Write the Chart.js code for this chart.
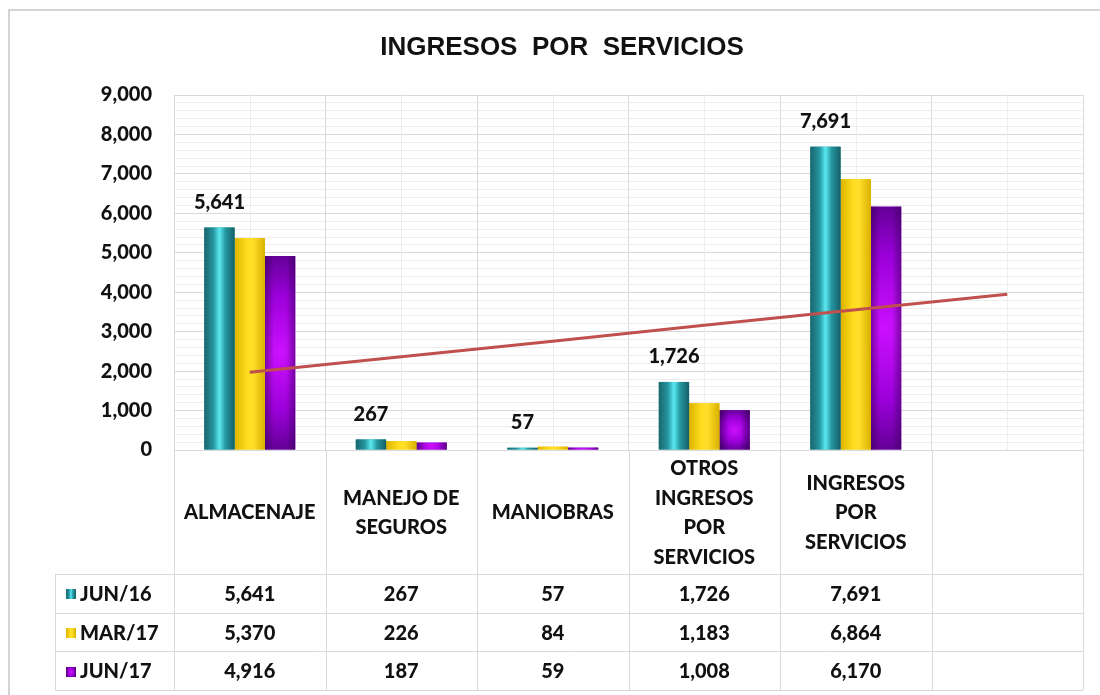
<!DOCTYPE html>
<html>
<head>
<meta charset="utf-8">
<script src="https://cdn.jsdelivr.net/npm/chart.js@4"></script>
<style>
  html, body { margin: 0; padding: 0; background: #fff; }
  #wrap { width: 1100px; height: 695px; }
</style>
</head>
<body>
<div id="wrap"><canvas id="chart" width="1100" height="695"></canvas></div>
<script>
// categories (line-broken as in the table) and series
const categories = [
    ["ALMACENAJE"],
    ["MANEJO DE", "SEGUROS"],
    ["MANIOBRAS"],
    ["OTROS", "INGRESOS", "POR", "SERVICIOS"],
    ["INGRESOS", "POR", "SERVICIOS"],
    [""]
];
const seriesNames = ["JUN/16", "MAR/17", "JUN/17"];
const jun16 = [5641, 267, 57, 1726, 7691, null];
const mar17 = [5370, 226, 84, 1183, 6864, null];
const jun17 = [4916, 187, 59, 1008, 6170, null];
const trend = [1970, 2365, 2760, 3160, 3555, 3950];
const yMajorTicks = [0, 1000, 2000, 3000, 4000, 5000, 6000, 7000, 8000, 9000];
const yMinorStep = 200;

const FONT = "Lato, 'Open Sans', sans-serif";
const WEIGHT = "900";
const GRID = "#d9d9d9";
const GRID_MINOR = "#ededed";
const TEXT = "#111";
const fmt = v => v.toLocaleString("en-US");

function barFill(ctx, x0, x1, yTop, yBot, idx) {
    if (idx === 0) {
        const g = ctx.createLinearGradient(x0, 0, x1, 0);
        g.addColorStop(0, "#17666e");
        g.addColorStop(0.3, "#2596a0");
        g.addColorStop(0.5, "#5ae8f0");
        g.addColorStop(0.7, "#2596a0");
        g.addColorStop(1, "#165f67");
        return g;
    }
    if (idx === 1) {
        const g = ctx.createLinearGradient(x0, 0, x1, 0);
        g.addColorStop(0, "#dcb200");
        g.addColorStop(0.4, "#ffdc1e");
        g.addColorStop(0.6, "#ffdf2a");
        g.addColorStop(1, "#dbb000");
        return g;
    }
    const cx = (x0 + x1) / 2, cy = (yTop + yBot) / 2;
    const r = Math.max((yBot - yTop) * 0.6, (x1 - x0) * 0.8);
    const g = ctx.createRadialGradient(cx, cy, 0, cx, cy, r);
    g.addColorStop(0, "#cc10ff");
    g.addColorStop(0.5, "#9a00d8");
    g.addColorStop(1, "#4a0078");
    return g;
}

function paintBar(ctx, x0, x1, yTop, yBot, idx) {
    ctx.fillStyle = barFill(ctx, x0, x1, yTop, yBot, idx);
    ctx.fillRect(x0, yTop, x1 - x0, yBot - yTop);
    if (idx === 2) {
        const e = ctx.createLinearGradient(x0, 0, x1, 0);
        e.addColorStop(0, "rgba(50,0,80,0.5)");
        e.addColorStop(0.3, "rgba(50,0,80,0)");
        e.addColorStop(0.7, "rgba(50,0,80,0)");
        e.addColorStop(1, "rgba(50,0,80,0.5)");
        ctx.fillStyle = e;
        ctx.fillRect(x0, yTop, x1 - x0, yBot - yTop);
    }
}

const framePlugin = {
    id: "frame",
    beforeDraw(chart) {
        const ctx = chart.ctx;
        ctx.save();
        ctx.strokeStyle = "#d4d4d4";
        ctx.lineWidth = 2;
        ctx.beginPath();
        ctx.moveTo(9, 695);
        ctx.lineTo(9, 10);
        ctx.lineTo(1100, 10);
        ctx.stroke();
        ctx.restore();
    },
    beforeDatasetsDraw(chart) {
        // lighter lines through the middle of each category
        const { ctx, chartArea: a, scales: { x } } = chart;
        ctx.save();
        ctx.strokeStyle = GRID_MINOR;
        ctx.lineWidth = 1;
        categories.forEach((_, i) => {
            const px = Math.round(x.getPixelForValue(i)) + 0.5;
            ctx.beginPath();
            ctx.moveTo(px, a.top);
            ctx.lineTo(px, a.bottom);
            ctx.stroke();
        });
        ctx.restore();
    }
};

const barLookPlugin = {
    id: "barLook",
    afterDatasetDraw(chart, args) {
        const meta = args.meta;
        if (meta.type !== "bar") return;
        const ctx = chart.ctx;
        ctx.save();
        ctx.beginPath();
        ctx.rect(chart.chartArea.left, chart.chartArea.top, chart.chartArea.width, chart.chartArea.height);
        ctx.clip();
        meta.data.forEach((el, j) => {
            const v = chart.data.datasets[args.index].data[j];
            if (v == null) return;
            const x0 = el.x - el.width / 2, x1 = el.x + el.width / 2;
            paintBar(ctx, x0, x1, Math.min(el.y, el.base), Math.max(el.y, el.base), args.index);
        });
        ctx.restore();
    },
    afterDatasetsDraw(chart) {
        // value labels above the JUN/16 bars
        const ctx = chart.ctx;
        const meta = chart.getDatasetMeta(0);
        ctx.save();
        ctx.font = `${WEIGHT} 20px ${FONT}`;
        ctx.fillStyle = TEXT;
        ctx.textAlign = "center";
        ctx.textBaseline = "middle";
        meta.data.forEach((el, j) => {
            const v = jun16[j];
            if (v == null) return;
            ctx.fillText(fmt(v), el.x, el.y - 25);
        });
        ctx.restore();
    }
};

const tablePlugin = {
    id: "dataTable",
    afterDraw(chart) {
        const { ctx, chartArea: a, scales: { x } } = chart;
        const step = x.getPixelForValue(1) - x.getPixelForValue(0);
        const edges = categories.map((_, i) => x.getPixelForValue(i) - step / 2);
        edges.push(x.getPixelForValue(categories.length - 1) + step / 2);
        const bandBottom = 574, rowH = 38.7, tableLeft = 55;
        const rowLines = [0, 1, 2, 3].map(k => bandBottom + k * rowH);
        const tableBottom = rowLines[3];
        const line = (x1, y1, x2, y2) => {
            ctx.beginPath(); ctx.moveTo(x1, y1); ctx.lineTo(x2, y2); ctx.stroke();
        };

        ctx.save();
        ctx.strokeStyle = GRID;
        ctx.lineWidth = 1;
        edges.forEach(ex => {
            const px = Math.round(ex) + 0.5;
            line(px, a.bottom, px, tableBottom);
        });
        line(tableLeft + 0.5, bandBottom, tableLeft + 0.5, tableBottom);
        rowLines.forEach(ry => {
            const py = Math.round(ry) + 0.5;
            line(tableLeft, py, Math.round(a.right) + 0.5, py);
        });

        ctx.font = `${WEIGHT} 20px ${FONT}`;
        ctx.fillStyle = TEXT;
        ctx.textAlign = "center";
        ctx.textBaseline = "middle";
        const mid = (a.bottom + bandBottom) / 2 + 1;
        categories.forEach((lines, i) => {
            const cx = x.getPixelForValue(i);
            lines.forEach((t, k) => {
                ctx.fillText(t, cx, mid + (k - (lines.length - 1) / 2) * 29.5);
            });
        });

        const rows = [jun16, mar17, jun17];
        rows.forEach((vals, r) => {
            const cy = rowLines[r] + rowH / 2 + 1;
            vals.forEach((v, i) => {
                if (v == null) return;
                ctx.fillStyle = TEXT;
                ctx.fillText(fmt(v), x.getPixelForValue(i), cy);
            });
            // legend key
            const mx = 66, ms = 10, my = Math.round(cy - ms / 2);
            paintBar(ctx, mx, mx + ms, my, my + ms, r);
            ctx.fillStyle = TEXT;
            ctx.textAlign = "left";
            ctx.fillText(seriesNames[r], 80, cy);
            ctx.textAlign = "center";
        });
        ctx.restore();
    }
};

const solid = ["#2596a0", "#f2cc00", "#8a00c6"];

new Chart(document.getElementById("chart"), {
    data: {
        labels: categories.map(c => c.join(" ")),
        datasets: [
            { type: "bar", label: seriesNames[0], data: jun16, backgroundColor: solid[0], order: 1 },
            { type: "bar", label: seriesNames[1], data: mar17, backgroundColor: solid[1], order: 1 },
            { type: "bar", label: seriesNames[2], data: jun17, backgroundColor: solid[2], order: 1 },
            {
                type: "line", label: "Tendencia", data: trend, order: 0,
                borderColor: "#c0504d", borderWidth: 3, pointRadius: 0, tension: 0, fill: false
            }
        ]
    },
    options: {
        responsive: false,
        animation: false,
        categoryPercentage: 0.6,
        barPercentage: 1.0,
        layout: { padding: { left: 41, right: 17, top: 0, bottom: 245 } },
        plugins: {
            legend: { display: false },
            tooltip: { enabled: false },
            title: {
                display: true,
                text: "INGRESOS  POR  SERVICIOS",
                color: TEXT,
                font: { family: "'Liberation Sans', Arial, sans-serif", weight: "bold", size: 26 },
                padding: { top: 32, bottom: 31.8 }
            }
        },
        scales: {
            x: {
                afterFit(s) { s.height = 0; },
                grid: { offset: true, color: GRID, drawTicks: false },
                border: { color: GRID },
                ticks: { display: false }
            },
            y: {
                min: 0,
                max: 9000,
                afterFit(s) { s.width = 133; },
                afterBuildTicks(s) {
                    const ticks = [];
                    for (let v = yMajorTicks[0]; v <= yMajorTicks[yMajorTicks.length - 1]; v += yMinorStep) {
                        ticks.push({ value: v });
                    }
                    s.ticks = ticks;
                },
                border: { color: GRID },
                grid: {
                    color: c => (yMajorTicks.includes(c.tick.value) ? GRID : GRID_MINOR),
                    drawTicks: false
                },
                ticks: {
                    autoSkip: false,
                    padding: 22,
                    color: TEXT,
                    font: { family: FONT, weight: WEIGHT, size: 20 },
                    callback: v => (yMajorTicks.includes(v) ? fmt(v) : "")
                }
            }
        }
    },
    plugins: [framePlugin, barLookPlugin, tablePlugin]
});
</script>
</body>
</html>
